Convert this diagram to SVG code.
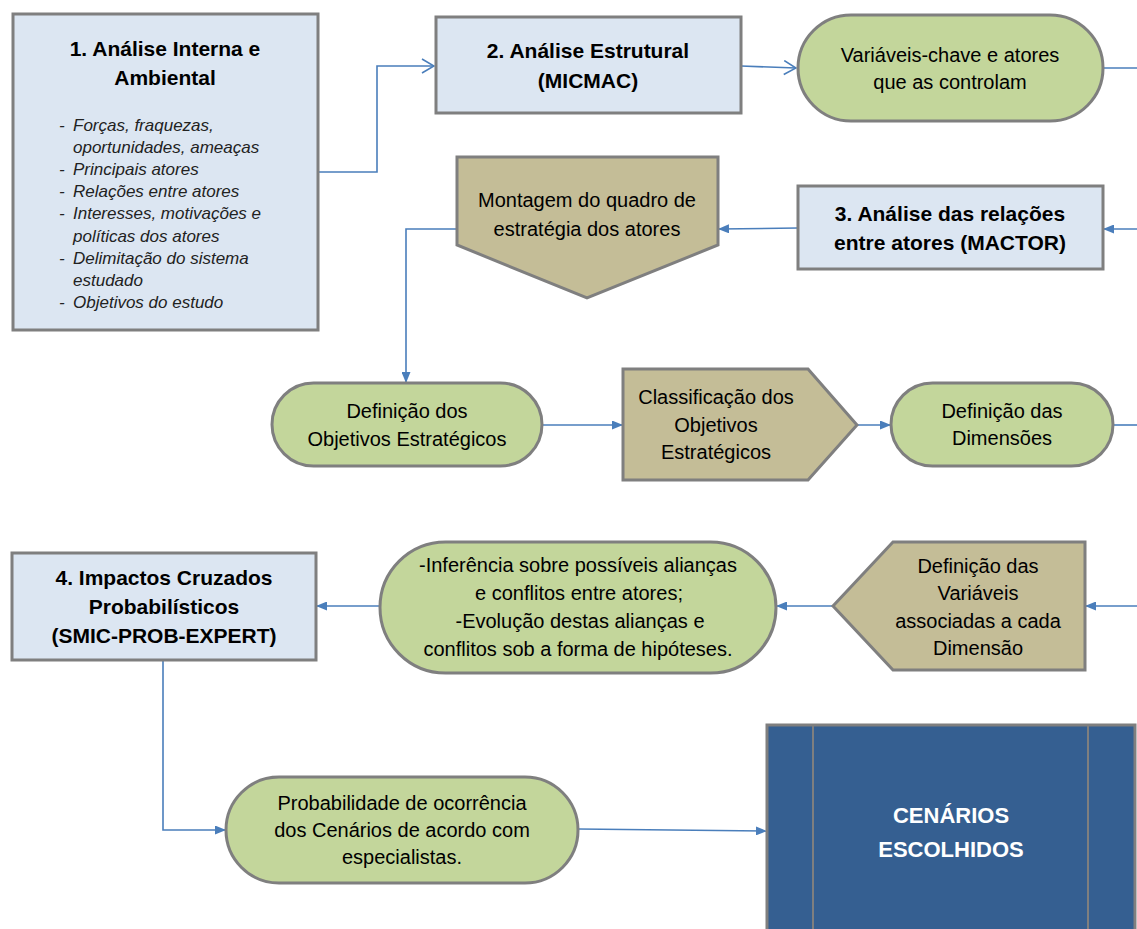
<svg xmlns="http://www.w3.org/2000/svg" width="1137" height="929" viewBox="0 0 1137 929">
<defs>
<marker id="fa" markerWidth="11" markerHeight="9" refX="10" refY="4.5" orient="auto" markerUnits="userSpaceOnUse"><path d="M0,0 L11,4.5 L0,9 Z" fill="#4a7ebb"/></marker>
<marker id="oa" markerWidth="14" markerHeight="16" refX="13" refY="8" orient="auto" markerUnits="userSpaceOnUse"><path d="M1,1 L13,8 L1,15" fill="none" stroke="#4a7ebb" stroke-width="1.6"/></marker>
</defs>
<style>
.blue{fill:#dce6f2;stroke:#7f7f7f;stroke-width:3}
.green{fill:#c3d69b;stroke:#7f7f7f;stroke-width:3}
.tan{fill:#c4bd97;stroke:#7f7f7f;stroke-width:3}
.dark{fill:#355f91;stroke:#7f7f7f;stroke-width:3}
.c{fill:none;stroke:#4a7ebb;stroke-width:1.6}
text{font-family:"Liberation Sans",Arial,sans-serif;fill:#000}
.t{font-size:20px;text-anchor:middle}
.b{font-size:21px;font-weight:bold;text-anchor:middle}
.i{font-size:17px;font-style:italic;fill:#222}
.w{font-size:22px;font-weight:bold;fill:#fff;text-anchor:middle}
</style>
<g id="connectors">
<polyline class="c" points="318,172 377,172 377,66 434,66" marker-end="url(#oa)"/>
<line class="c" x1="741" y1="66" x2="796" y2="68" marker-end="url(#oa)"/>
<line class="c" x1="1103" y1="68" x2="1137" y2="68"/>
<line class="c" x1="1137" y1="229" x2="1104" y2="229" marker-end="url(#fa)"/>
<line class="c" x1="798" y1="228" x2="719" y2="229" marker-end="url(#fa)"/>
<polyline class="c" points="457,229 406,229 406,382" marker-end="url(#fa)"/>
<line class="c" x1="542" y1="425" x2="622" y2="425" marker-end="url(#fa)"/>
<line class="c" x1="857" y1="425" x2="890" y2="425" marker-end="url(#fa)"/>
<line class="c" x1="1113" y1="425" x2="1137" y2="425"/>
<line class="c" x1="1137" y1="606" x2="1086" y2="606" marker-end="url(#fa)"/>
<line class="c" x1="833" y1="606" x2="777" y2="606" marker-end="url(#fa)"/>
<line class="c" x1="380" y1="606" x2="317" y2="606" marker-end="url(#fa)"/>
<polyline class="c" points="163,660 163,830 225,830" marker-end="url(#fa)"/>
<line class="c" x1="578" y1="829" x2="766" y2="831" marker-end="url(#fa)"/>
</g>
<g id="n1">
<rect class="blue" x="13" y="14" width="305" height="316"/>
<text class="b" x="165" y="56">1. Análise Interna e</text>
<text class="b" x="165" y="85">Ambiental</text>
<g class="i">
<text class="i" x="59" y="131">-</text><text class="i" x="73" y="131">Forças, fraquezas,</text>
<text class="i" x="73" y="153">oportunidades, ameaças</text>
<text class="i" x="59" y="175">-</text><text class="i" x="73" y="175">Principais atores</text>
<text class="i" x="59" y="197">-</text><text class="i" x="73" y="197">Relações entre atores</text>
<text class="i" x="59" y="219">-</text><text class="i" x="73" y="219">Interesses, motivações e</text>
<text class="i" x="73" y="242">políticas dos atores</text>
<text class="i" x="59" y="264">-</text><text class="i" x="73" y="264">Delimitação do sistema</text>
<text class="i" x="73" y="286">estudado</text>
<text class="i" x="59" y="308">-</text><text class="i" x="73" y="308">Objetivos do estudo</text>
</g>
</g>
<g id="n2">
<rect class="blue" x="436" y="17" width="305" height="96"/>
<text class="b" x="588" y="58">2. Análise Estrutural</text>
<text class="b" x="588" y="88">(MICMAC)</text>
</g>
<g id="n3">
<rect class="green" x="798" y="15" width="305" height="106" rx="53"/>
<text class="t" x="950" y="62">Variáveis-chave e atores</text>
<text class="t" x="950" y="89">que as controlam</text>
</g>
<g id="n4">
<polygon class="tan" points="457,157 718,157 718,245 587,298 457,245"/>
<text class="t" x="587" y="207">Montagem do quadro de</text>
<text class="t" x="587" y="236">estratégia dos atores</text>
</g>
<g id="n5">
<rect class="blue" x="798" y="186" width="305" height="83"/>
<text class="b" x="950" y="221">3. Análise das relações</text>
<text class="b" x="950" y="250">entre atores (MACTOR)</text>
</g>
<g id="n6">
<rect class="green" x="272" y="383" width="270" height="83" rx="41.5"/>
<text class="t" x="407" y="418">Definição dos</text>
<text class="t" x="407" y="446">Objetivos Estratégicos</text>
</g>
<g id="n7">
<polygon class="tan" points="623,369 808,369 857,425 808,480 623,480"/>
<text class="t" x="716" y="404">Classificação dos</text>
<text class="t" x="716" y="432">Objetivos</text>
<text class="t" x="716" y="459">Estratégicos</text>
</g>
<g id="n8">
<rect class="green" x="891" y="383" width="222" height="83" rx="41.5"/>
<text class="t" x="1002" y="418">Definição das</text>
<text class="t" x="1002" y="445">Dimensões</text>
</g>
<g id="n9">
<polygon class="tan" points="893,542 1085,542 1085,670 893,670 833,606"/>
<text class="t" x="978" y="573">Definição das</text>
<text class="t" x="978" y="600">Variáveis</text>
<text class="t" x="978" y="628">associadas a cada</text>
<text class="t" x="978" y="655">Dimensão</text>
</g>
<g id="n10">
<rect class="green" x="380" y="542" width="396" height="131" rx="65.5"/>
<text class="t" x="578" y="572">-Inferência sobre possíveis alianças</text>
<text class="t" x="579" y="600">e conflitos entre atores;</text>
<text class="t" x="580" y="628">-Evolução destas alianças e</text>
<text class="t" x="578" y="656">conflitos sob a forma de hipóteses.</text>
</g>
<g id="n11">
<rect class="blue" x="12" y="553" width="304" height="107"/>
<text class="b" x="164" y="585">4. Impactos Cruzados</text>
<text class="b" x="164" y="614">Probabilísticos</text>
<text class="b" x="164" y="643">(SMIC-PROB-EXPERT)</text>
</g>
<g id="n12">
<rect class="green" x="226" y="777" width="352" height="106" rx="53"/>
<text class="t" x="402" y="810">Probabilidade de ocorrência</text>
<text class="t" x="402" y="837">dos Cenários de acordo com</text>
<text class="t" x="402" y="864">especialistas.</text>
</g>
<g id="n13">
<rect class="dark" x="767" y="725" width="368" height="240"/>
<line x1="813" y1="726" x2="813" y2="929" stroke="#7f7f7f" stroke-width="2"/>
<line x1="1088" y1="726" x2="1088" y2="929" stroke="#7f7f7f" stroke-width="2"/>
<text class="w" x="951" y="823">CENÁRIOS</text>
<text class="w" x="951" y="857">ESCOLHIDOS</text>
</g>
</svg>
